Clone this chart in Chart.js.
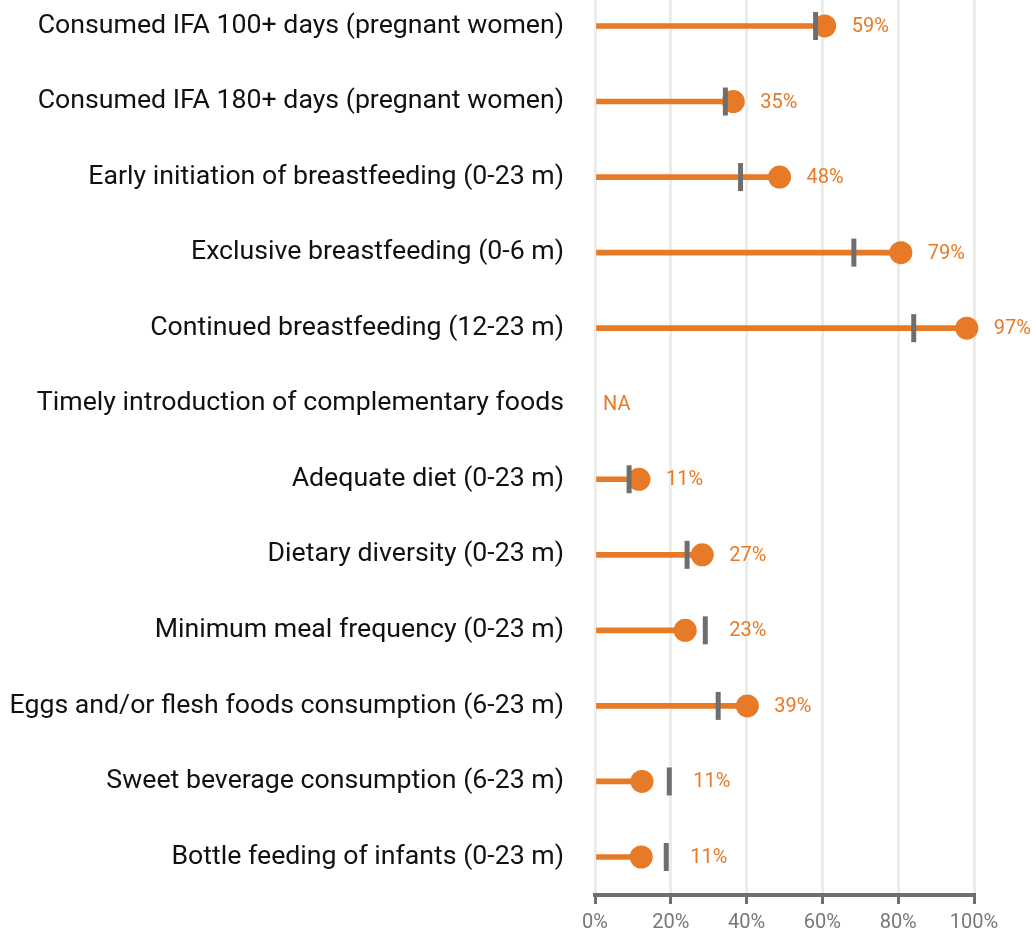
<!DOCTYPE html>
<html>
<head>
<meta charset="utf-8">
<script src="https://cdn.jsdelivr.net/npm/chart.js@4.4.1/dist/chart.umd.min.js"></script>
<style>
html,body{margin:0;padding:0;background:#fff;}
canvas{display:block;}
</style>
</head>
<body>
<canvas id="c" width="1032" height="933"></canvas>
<script>
const categories = [
  "Consumed IFA 100+ days (pregnant women)",
  "Consumed IFA 180+ days (pregnant women)",
  "Early initiation of breastfeeding (0-23 m)",
  "Exclusive breastfeeding (0-6 m)",
  "Continued breastfeeding (12-23 m)",
  "Timely introduction of complementary foods",
  "Adequate diet (0-23 m)",
  "Dietary diversity (0-23 m)",
  "Minimum meal frequency (0-23 m)",
  "Eggs and/or flesh foods consumption (6-23 m)",
  "Sweet beverage consumption (6-23 m)",
  "Bottle feeding of infants (0-23 m)"
];
const values     = [60.6, 36.5, 48.7, 80.7, 98.1, null, 11.6, 28.3, 23.8, 40.2, 12.4, 12.2];
const benchmarks = [58.2, 34.4, 38.4, 68.3, 84.1, null, 9.0, 24.3, 29.1, 32.5, 19.6, 18.8];
const valueLabels = ["59%", "35%", "48%", "79%", "97%", "NA", "11%", "27%", "23%", "39%", "11%", "11%"];
const xTicks = [0, 20, 40, 60, 80, 100];

const ORANGE = '#E67A26';
const GRAY = '#6e6e6e';

const stems = [], dots = [], marks = [];
categories.forEach((c, i) => {
  if (values[i] !== null) {
    stems.push({x: [0, values[i]], y: i});
    dots.push({x: values[i], y: i});
  }
  if (benchmarks[i] !== null) marks.push({x: benchmarks[i], y: i});
});

const labelPlugin = {
  id: 'valueLabels',
  afterDatasetsDraw(chart) {
    const ctx = chart.ctx, xs = chart.scales.x, ys = chart.scales.y;
    ctx.save();
    ctx.font = '20px Roboto';
    ctx.fillStyle = ORANGE;
    ctx.textAlign = 'left';
    ctx.textBaseline = 'middle';
    categories.forEach((c, i) => {
      const y = ys.getPixelForValue(i);
      let x;
      if (values[i] === null) {
        x = xs.getPixelForValue(0) + 8;
      } else {
        x = xs.getPixelForValue(values[i]) + 27;
        if (benchmarks[i] !== null) x = Math.max(x, xs.getPixelForValue(benchmarks[i]) + 24);
      }
      ctx.fillText(valueLabels[i], x, y + 1);
    });
    ctx.restore();
  }
};

new Chart(document.getElementById('c'), {
  data: {
    datasets: [
      {type: 'scatter', data: marks, pointStyle: 'line', rotation: 90, pointRadius: 14,
       borderColor: GRAY, pointBorderWidth: 5, borderWidth: 5, backgroundColor: GRAY, order: 0, clip: false},
      {type: 'scatter', data: dots, pointRadius: 11.5, backgroundColor: ORANGE,
       borderWidth: 0, pointBorderWidth: 0, order: 1, clip: false},
      {type: 'bar', indexAxis: 'y', data: stems, backgroundColor: ORANGE, barThickness: 5,
       borderWidth: 0, order: 2, clip: false}
    ]
  },
  options: {
    responsive: false,
    animation: false,
    events: [],
    layout: {autoPadding: false, padding: {top: 0, right: 58, bottom: 0, left: 0}},
    plugins: {legend: {display: false}, tooltip: {enabled: false}},
    scales: {
      x: {
        type: 'linear', min: 0, max: 100, offset: false,
        afterBuildTicks(s) { s.ticks = xTicks.map(v => ({value: v})); },
        afterFit(s) { s.height = 38; s.paddingLeft = 0; s.paddingRight = 0; },
        grid: {color: '#ecece8', lineWidth: 3, offset: false, drawTicks: true, tickLength: 9, tickColor: GRAY, tickWidth: 3},
        border: {display: true, color: GRAY, width: 4},
        ticks: {color: '#777777', font: {family: 'Roboto', size: 20}, padding: 7,
                callback: v => v + '%'}
      },
      y: {
        type: 'linear', reverse: true, min: -0.344, max: 11.503, offset: false,
        afterBuildTicks(s) { s.ticks = categories.map((c, i) => ({value: i})); },
        afterFit(s) { s.width = 595; s.paddingTop = 0; s.paddingBottom = 0; },
        grid: {display: false, drawTicks: false, offset: false},
        border: {display: false},
        ticks: {color: '#111111', font: {family: 'Roboto', size: 26.7}, padding: 31,
                autoSkip: false, callback: (v) => categories[v]}
      }
    }
  },
  plugins: [labelPlugin]
});
</script>
</body>
</html>
